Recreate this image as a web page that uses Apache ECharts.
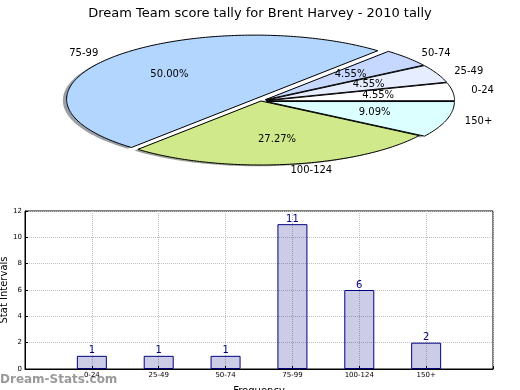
<!DOCTYPE html>
<html><head><meta charset="utf-8">
<script src="https://cdn.jsdelivr.net/npm/echarts@6/dist/echarts.min.js"></script>
<style>html,body{margin:0;padding:0;background:#fff}#c{width:520px;height:390px}</style>
</head><body><div id="c"></div>
<script>
// ---- data ----
var title = 'Dream Team score tally for Brent Harvey - 2010 tally';
var categories = ['0-24', '25-49', '50-74', '75-99', '100-124', '150+'];
var counts = [1, 1, 1, 11, 6, 2];
var yTicks = [0, 2, 4, 6, 8, 10, 12];
var sliceColors = ['#ffffff', '#e6edff', '#c6d8ff', '#b3d6ff', '#d0e98a', '#dcffff'];
var explode = [0.03, 0.03, 0.03, 0.045, 0, 0.03];

var total = counts.reduce(function (a, b) { return a + b; }, 0);
var cum = [0];
counts.forEach(function (v, i) { cum.push(cum[i] + v); });

function hexToRgb(h) { return [parseInt(h.substr(1,2),16), parseInt(h.substr(3,2),16), parseInt(h.substr(5,2),16)]; }

function wedgePoints(api, i, sx, sy) {
  var a0 = cum[i] / total * 2 * Math.PI, a1 = cum[i + 1] / total * 2 * Math.PI;
  var mid = (a0 + a1) / 2;
  var ox = explode[i] * Math.cos(mid) + sx, oy = explode[i] * Math.sin(mid) + sy;
  var pts = [api.coord([ox, oy])];
  var n = Math.max(4, Math.ceil((a1 - a0) / (Math.PI / 180)));
  for (var k = 0; k <= n; k++) {
    var a = a0 + (a1 - a0) * k / n;
    pts.push(api.coord([Math.cos(a) + ox, Math.sin(a) + oy]));
  }
  return pts;
}

var chart = echarts.init(document.getElementById('c'));
var font = 'DejaVu Sans';
var pieData = categories.map(function (c, i) { return [i, counts[i]]; });

chart.setOption({
  animation: false,
  title: { text: title, left: 'center', top: 2, textStyle: { fontFamily: font, fontWeight: 'normal', fontSize: 13, color: '#000' } },
  graphic: [
    { type: 'text', left: 0, top: 374, style: { text: 'Dream-Stats.com', fill: '#9a9a9a', font: 'bold 12px "DejaVu Sans"' } },
    { type: 'text', x: 4, y: 290, rotation: Math.PI / 2, style: { text: 'Stat Intervals', fill: '#000', font: '10px "DejaVu Sans"', align: 'center', verticalAlign: 'middle' } }
  ],
  grid: [
    { left: 25, top: 211, width: 468, height: 158, show: true, borderColor: '#000', borderWidth: 1, backgroundColor: 'transparent', containLabel: false, outerBoundsMode: 'none' },
    { left: 73, top: 37, width: 376, height: 128, show: false, containLabel: false, outerBoundsMode: 'none' }
  ],
  xAxis: [
    { type: 'value', gridIndex: 0, min: 0, max: categories.length + 1, interval: 1,
      name: 'Frequency', nameLocation: 'middle', nameGap: 17,
      nameTextStyle: { fontFamily: font, fontSize: 10, color: '#000', verticalAlign: 'top' },
      axisLine: { show: true, lineStyle: { color: '#000' } },
      axisTick: { show: true, inside: true, length: 3, lineStyle: { color: '#000' } },
      axisLabel: { fontFamily: font, fontSize: 7, color: '#000', margin: 3,
        formatter: function (v) { return categories[v - 1] || ''; } },
      splitLine: { show: true, lineStyle: { color: '#c0c0c0', type: 'dotted' } } },
    { type: 'value', gridIndex: 1, min: -1, max: 1, show: false }
  ],
  yAxis: [
    { type: 'value', gridIndex: 0, min: yTicks[0], max: yTicks[yTicks.length - 1], interval: 2,
      axisLine: { show: true, lineStyle: { color: '#000' } },
      axisTick: { show: true, inside: true, length: 3, lineStyle: { color: '#000' } },
      axisLabel: { fontFamily: font, fontSize: 7, color: '#000', margin: 3 },
      splitLine: { show: true, lineStyle: { color: '#c0c0c0', type: 'dotted' } } },
    { type: 'value', gridIndex: 1, min: -1, max: 1, show: false }
  ],
  series: [
    { type: 'bar', xAxisIndex: 0, yAxisIndex: 0, barWidth: 30,
      data: counts.map(function (v, i) { return [i + 1, v]; }),
      itemStyle: { color: 'rgba(0,0,128,0.2)', borderColor: '#000080', borderWidth: 1 },
      label: { show: true, position: 'top', distance: 0, color: '#000080', fontFamily: font, fontSize: 10 } },
    { type: 'custom', xAxisIndex: 1, yAxisIndex: 1, z: 1, data: pieData,
      renderItem: function (params, api) {
        var i = params.dataIndex;
        var c = hexToRgb(sliceColors[i]);
        return { type: 'polygon', shape: { points: wedgePoints(api, i, -0.02, -0.02) },
          style: { fill: 'rgba(' + Math.round(c[0]*0.3) + ',' + Math.round(c[1]*0.3) + ',' + Math.round(c[2]*0.3) + ',0.5)', stroke: null } };
      } },
    { type: 'custom', xAxisIndex: 1, yAxisIndex: 1, z: 2, data: pieData,
      renderItem: function (params, api) {
        var i = params.dataIndex;
        return { type: 'polygon', shape: { points: wedgePoints(api, i, 0, 0) },
          style: { fill: sliceColors[i], stroke: '#000', lineWidth: 1, lineJoin: 'round' } };
      } },
    { type: 'custom', xAxisIndex: 1, yAxisIndex: 1, z: 3, data: pieData,
      renderItem: function (params, api) {
        var i = params.dataIndex;
        var a0 = cum[i] / total * 2 * Math.PI, a1 = cum[i + 1] / total * 2 * Math.PI;
        var mid = (a0 + a1) / 2;
        var ox = explode[i] * Math.cos(mid), oy = explode[i] * Math.sin(mid);
        var pn = api.coord([1.1 * Math.cos(mid) + ox, 1.1 * Math.sin(mid) + oy]);
        var pp = api.coord([0.6 * Math.cos(mid) + ox, 0.6 * Math.sin(mid) + oy]);
        var pct = (api.value(1) / total * 100).toFixed(2) + '%';
        return { type: 'group', children: [
          { type: 'text', x: pn[0], y: pn[1], style: { text: categories[i], fill: '#000', font: '10px "DejaVu Sans"',
              align: Math.cos(mid) >= 0 ? 'left' : 'right', verticalAlign: 'middle' } },
          { type: 'text', x: pp[0], y: pp[1], style: { text: pct, fill: '#000', font: '10px "DejaVu Sans"',
              align: 'center', verticalAlign: 'middle' } }
        ] };
      } }
  ]
});
</script></body></html>
